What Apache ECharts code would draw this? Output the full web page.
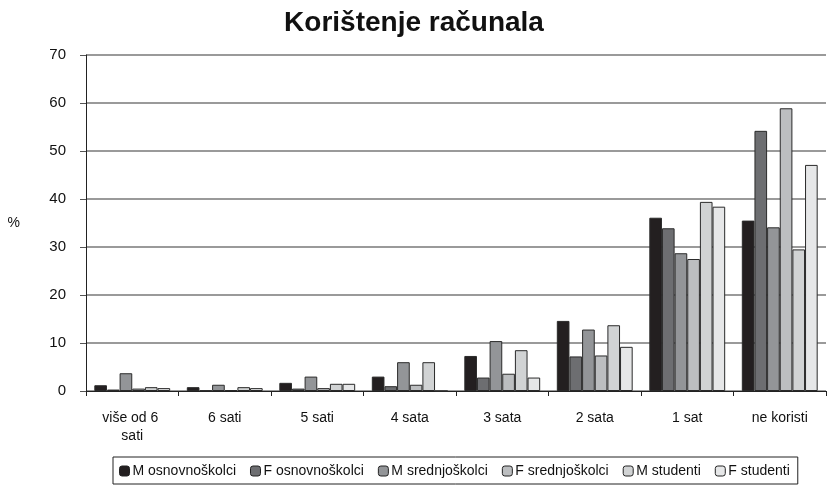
<!DOCTYPE html>
<html><head><meta charset="utf-8">
<script src="https://cdn.jsdelivr.net/npm/echarts@6/dist/echarts.min.js"></script>
<style>html,body{margin:0;padding:0;background:#fff}#c{width:828px;height:492px}</style>
</head><body><div id="c"></div>
<script>
var title = 'Korištenje računala';
var categories = ['više od 6 sati', '6 sati', '5 sati', '4 sata', '3 sata', '2 sata', '1 sat', 'ne koristi'];
var seriesNames = ['M osnovnoškolci', 'F osnovnoškolci', 'M srednjoškolci', 'F srednjoškolci', 'M studenti', 'F studenti'];
var mOsnovna = [1.2, 0.8, 1.7, 3.0, 7.3, 14.6, 36.1, 35.5];
var fOsnovna = [0.3, 0.1, 0.5, 1.0, 2.8, 7.2, 33.9, 54.2];
var mSrednja = [3.7, 1.3, 3.0, 6.0, 10.4, 12.8, 28.7, 34.1];
var fSrednja = [0.5, 0.2, 0.6, 1.3, 3.6, 7.4, 27.5, 58.9];
var mStudenti = [0.8, 0.8, 1.5, 6.0, 8.5, 13.7, 39.4, 29.5];
var fStudenti = [0.6, 0.6, 1.5, 0, 2.8, 9.2, 38.4, 47.1];
var yTicks = [0, 10, 20, 30, 40, 50, 60, 70];
var colors = ['#231f20', '#6d6e71', '#939598', '#bcbec0', '#d1d3d4', '#e6e7e8'];
var values = [mOsnovna, fOsnovna, mSrednja, fSrednja, mStudenti, fStudenti];
var font = "'Liberation Sans Narrow', 'Arial Narrow', 'Liberation Sans', Arial, sans-serif";

var chart = echarts.init(document.getElementById('c'), null, {renderer: 'canvas'});
chart.setOption({
  animation: false,
  backgroundColor: '#fff',
  textStyle: {fontFamily: font},
  title: {text: title, left: 'center', top: 4,
    textStyle: {fontFamily: "'Liberation Sans', Arial, sans-serif", fontWeight: 'bold', fontSize: 28, color: '#111'}},
  legend: {
    data: seriesNames, left: 113, top: 457, width: 686,
    borderColor: '#222', borderWidth: 1, padding: [7, 8, 6, 6],
    itemWidth: 10, itemHeight: 10, itemGap: 14,
    textStyle: {fontFamily: font, fontSize: 14, color: '#111', padding: [0, 0, 0, -2]},
    itemStyle: {borderColor: '#222', borderWidth: 1}
  },
  grid: {left: 86, right: 2, top: 55, bottom: 101, containLabel: false},
  xAxis: {
    type: 'category', data: categories,
    axisLine: {lineStyle: {color: '#222', width: 1}},
    axisTick: {show: true, length: 5, lineStyle: {color: '#222'}},
    axisLabel: {interval: 0, fontFamily: font, fontSize: 14, color: '#111', margin: 18, width: 70, overflow: 'break', lineHeight: 18}
  },
  yAxis: {
    type: 'value', min: 0, max: 70, interval: 10,
    name: '%', nameLocation: 'middle', nameGap: 66, nameRotate: 0,
    nameTextStyle: {fontFamily: font, fontSize: 14, color: '#111'},
    axisLine: {show: true, lineStyle: {color: '#222', width: 1}},
    axisTick: {show: true, length: 6, lineStyle: {color: '#555'}},
    axisLabel: {fontFamily: font, fontSize: 15, color: '#111', margin: 20,
      formatter: function (v) { return yTicks.indexOf(v) >= 0 ? String(v) : ''; }},
    splitLine: {show: true, lineStyle: {color: '#9a9a9a', width: 2}}
  },
  series: values.map(function (d, i) {
    return {
      name: seriesNames[i], type: 'bar', data: d,
      barGap: '0%', barCategoryGap: '18%',
      itemStyle: {color: colors[i], borderColor: '#2a2a2a', borderWidth: 1}
    };
  })
});
</script></body></html>
